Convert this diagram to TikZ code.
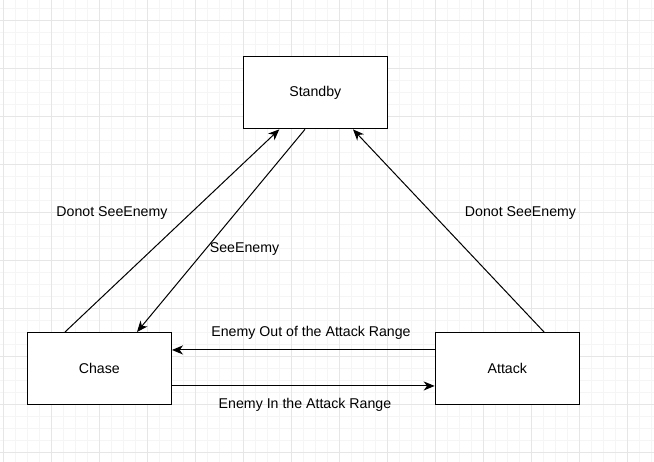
\documentclass[tikz,border=0pt]{standalone}
\usepackage{fontspec}
\setmainfont{Liberation Sans}
\definecolor{grid_major}{RGB}{230, 230, 230}
\definecolor{grid_minor}{RGB}{245, 245, 245}
\usetikzlibrary{arrows.meta, positioning, calc}

\begin{document}
\begin{tikzpicture}[
        state/.style={rectangle, draw=black, fill=white, line width=0.8pt,
                      minimum width=3cm, minimum height=1.5cm, inner sep=0pt,
                      font=\fontsize{8.4}{10}\selectfont},
        arr/.style={-{Stealth[length=2.3mm, width=1.9mm, inset=0.7mm]}, line width=0.6pt},
        lbl/.style={font=\fontsize{8.4}{10}\selectfont, inner sep=0pt},
      ]
        \useasboundingbox (0,0) rectangle (13.625,-9.625);
        % background grid
        \begin{scope}[shift={(0.069,-0.431)}]
          \clip (-0.069,0.431) rectangle (13.556,-9.194);
          \draw[grid_minor, line width=0.4pt, step=0.25] (-1,1) grid (14,-10);
          \draw[grid_major, line width=0.5pt, step=1] (-1,1) grid (14,-10);
        \end{scope}

        \node[state] (standby) at (6.569, -1.931) {Standby};
        \node[state] (chase)   at (2.069, -7.681) {Chase};
        \node[state] (attack)  at (10.569, -7.681) {Attack};

        \draw[arr] ([xshift=-0.715cm]chase.north) -- ([xshift=-0.75cm]standby.south);
        \draw[arr] ([xshift=-0.215cm]standby.south) -- ([xshift=0.785cm]chase.north);
        \draw[arr] ([xshift=0.765cm]attack.north) -- ([xshift=0.785cm]standby.south);
        \draw[arr] ([yshift=0.39cm]attack.west) -- ([yshift=0.39cm]chase.east);
        \draw[arr] ([yshift=-0.36cm]chase.east) -- ([yshift=-0.36cm]attack.west);

        \node[lbl] (lbl_left)  at (2.333, -4.4375)  {Donot SeeEnemy};
        \node[lbl] (lbl_see)   at (5.094, -5.1875)  {SeeEnemy};
        \node[lbl] (lbl_right) at (10.844, -4.4375) {Donot SeeEnemy};
        \node[lbl] (lbl_out)   at (6.479, -6.944)   {Enemy Out of the Attack Range};
        \node[lbl] (lbl_in)    at (6.354, -8.444)   {Enemy In the Attack Range};
      \end{tikzpicture}
\end{document}
